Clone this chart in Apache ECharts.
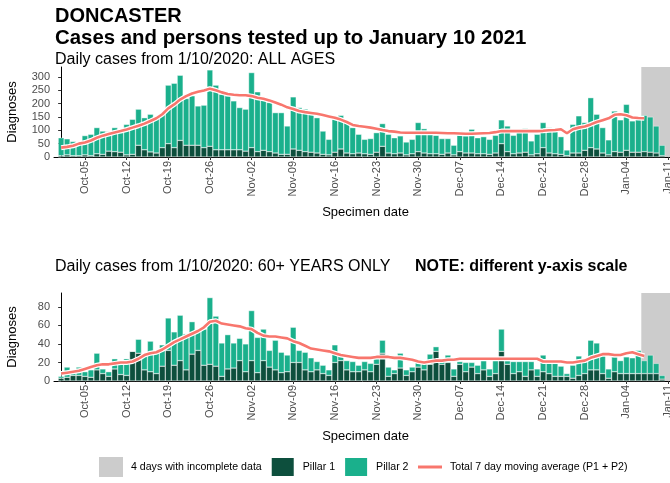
<!DOCTYPE html>
<html>
<head>
<meta charset="utf-8">
<script src="https://cdn.jsdelivr.net/npm/echarts@6/dist/echarts.min.js"></script>
<style>
html,body{margin:0;padding:0;background:#fff;}
#chart{width:670px;height:483px;}
</style>
</head>
<body>
<div id="chart"></div>
<script>
// ---- DATA (day index 0 = 2020-10-01 ... 101 = 2021-01-10) ----
const startDate = '2020-10-01';
const tickDays   = [4, 11, 18, 25, 32, 39, 46, 53, 60, 67, 74, 81, 88, 95, 102];
const tickLabels = ['Oct-05','Oct-12','Oct-19','Oct-26','Nov-02','Nov-09','Nov-16','Nov-23','Nov-30','Dec-07','Dec-14','Dec-21','Dec-28','Jan-04','Jan-11'];
const topTicks = [0, 50, 100, 150, 200, 250, 300];
const botTicks = [0, 20, 40, 60, 80];
const incompleteDays = [97.5, 103.5];

// All ages: total cases per day and Pillar 1 cases
const allTotal = [72,68,58,55,80,85,110,97,95,110,92,122,141,179,147,160,150,160,269,276,
  306,219,229,191,194,326,269,235,229,210,185,179,316,244,216,204,166,166,116,225,
  185,179,172,147,97,66,141,156,135,110,85,66,69,91,125,85,72,79,56,66,
  129,106,85,81,69,69,44,97,79,104,72,76,66,81,139,116,81,97,107,60,
  85,129,110,97,76,26,122,154,129,222,160,110,64,172,139,197,135,144,156,150,
  116,44];
const allP1 = [5,8,5,5,8,5,12,10,22,20,18,8,10,44,27,19,15,35,50,35,
  62,44,44,44,35,40,27,27,27,27,27,22,35,20,25,20,15,10,10,30,
  25,20,18,15,10,8,18,30,15,12,15,12,10,18,40,15,12,15,8,12,
  20,15,12,12,10,15,8,20,15,15,12,12,10,15,50,20,12,15,18,8,
  12,35,15,12,10,5,15,15,25,35,30,15,8,20,18,25,18,18,20,18,
  15,5];
const allAvg = [35,38,42,50,54,62,72,80,86,92,97,103,110,117,125,135,145,160,182,197,
  215,228,238,244,249,256,250,242,236,233,231,231,228,222,218,212,204,196,186,180,
  172,168,165,162,157,152,147,140,131,120,116,113,110,106,101,97,95,92,91,91,
  91,91,91,91,90,89,89,88,87,87,88,89,90,93,97,97,97,97,97,97,
  97,98,100,101,104,89,104,110,114,122,131,138,145,158,160,156,148,146,145];

// 60+ years: total cases per day and Pillar 1 cases
const oldTotal = [5,15,12,15,10,12,30,13,10,24,21,24,32,45,28,43,32,39,68,53,
  71,51,64,55,56,90,70,41,50,41,46,40,76,47,56,33,44,31,28,58,
  33,31,25,21,17,12,39,30,22,21,17,21,19,27,44,15,12,30,12,15,
  21,19,29,37,22,28,13,21,20,20,17,24,13,26,56,22,21,21,21,21,
  13,28,21,19,16,8,17,27,24,44,41,30,13,26,22,26,25,33,22,28,
  19,6];
const oldP1 = [3,4,6,6,5,4,12,8,5,13,7,6,32,30,12,10,8,16,33,17,
  22,12,29,33,17,18,16,5,13,14,22,10,22,9,22,15,12,9,10,20,
  20,12,10,12,8,6,20,22,12,10,10,12,10,18,30,5,8,14,6,10,
  15,12,18,32,18,20,5,18,10,15,8,12,5,8,32,18,8,10,5,12,
  5,10,8,5,5,5,3,6,8,12,12,8,3,10,8,8,8,8,8,8,
  8,2];
const oldAvg = [8,9,10,11,13,15,17,18,18,19,20,20,21,24,28,30,31,34,38,42,
  45,48,51,54,58,64,65,62,61,60,59,57,56,52,49,48,48,47,46,43,
  41,38,35,34,33,32,30,28,27,26,25,25,25,26,26,26,25,25,24,23,
  21,20,21,22,22,23,23,24,24,24,24,24,24,24,24,24,24,24,24,24,
  24,21,21,21,21,20,20,21,22,25,27,29,29,28,28,30,31,29,27];

// ---- CHART ----
const FONT = '"Liberation Sans", Arial, sans-serif';
const COL_P1 = '#0d4f3d', COL_P2 = '#1ab08c', COL_MA = '#f8766d', COL_GREY = '#cccccc';
const NAME_GREY = '4 days with incomplete data';
const NAME_MA = 'Total 7 day moving average (P1 + P2)';

function dateLabel(i) {
  const k = tickDays.indexOf(Math.round(i));
  return k >= 0 ? tickLabels[k] : '';
}
// bars: [value, dayIndex] with encode so that the stacked dimension is the value
const barPairs = (arr, f) => arr.map((v, i) => [f ? f(v, i) : v, i]);
const linePairs = arr => arr.map((v, i) => [i, v]);

function xAxis(gridIndex) {
  return {
    type: 'value', gridIndex, min: -1.2, max: incompleteDays[1],
    name: 'Specimen date', nameLocation: 'middle', nameGap: 49,
    nameTextStyle: { fontFamily: FONT, fontSize: 13, color: '#000' },
    splitLine: { show: false },
    axisLine: { show: true, lineStyle: { color: '#000', width: 1 } },
    axisTick: { show: true, length: 3, customValues: tickDays, lineStyle: { color: '#333' } },
    axisLabel: { customValues: tickDays, rotate: 90, fontFamily: FONT, fontSize: 11, color: '#4d4d4d', margin: 4,
      hideOverlap: false, formatter: v => dateLabel(v) }
  };
}
function yAxis(gridIndex, max, ticks) {
  return {
    type: 'value', gridIndex, min: 0, max,
    name: 'Diagnoses', nameLocation: 'middle', nameGap: 35,
    nameTextStyle: { fontFamily: FONT, fontSize: 13, color: '#000' },
    splitLine: { show: false },
    axisLine: { show: true, lineStyle: { color: '#000', width: 1 } },
    axisTick: { show: true, length: 3, customValues: ticks, lineStyle: { color: '#333' } },
    axisLabel: { customValues: ticks, fontFamily: FONT, fontSize: 11, color: '#4d4d4d', margin: 4 }
  };
}
function panelSeries(idx, total, p1, avg) {
  const st = 's' + idx;
  return [
    { name: NAME_GREY, type: 'line', xAxisIndex: idx, yAxisIndex: idx, data: [], symbol: 'none',
      itemStyle: { color: COL_GREY }, lineStyle: { color: COL_GREY },
      markArea: { silent: true, z: 1, itemStyle: { color: COL_GREY, opacity: 1 },
        data: [[{ xAxis: incompleteDays[0] }, { xAxis: incompleteDays[1] }]] }, z: 1 },
    { name: 'Pillar 1', type: 'bar', stack: st, xAxisIndex: idx, yAxisIndex: idx, barWidth: 5.9,
      encode: { x: 1, y: 0 },
      data: barPairs(p1), itemStyle: { color: COL_P1, borderColor: '#fff', borderWidth: 0.4 }, z: 2 },
    { name: 'Pillar 2', type: 'bar', stack: st, xAxisIndex: idx, yAxisIndex: idx, barWidth: 5.9,
      encode: { x: 1, y: 0 },
      data: barPairs(total, (v, i) => v - p1[i]), itemStyle: { color: COL_P2, borderColor: '#fff', borderWidth: 0.4 }, z: 2 },
    { name: 'halo', type: 'line', xAxisIndex: idx, yAxisIndex: idx, data: linePairs(avg), symbol: 'none',
      lineStyle: { color: '#fff', width: 5 }, z: 3, silent: true },
    { name: NAME_MA, type: 'line', xAxisIndex: idx, yAxisIndex: idx, data: linePairs(avg), symbol: 'none',
      itemStyle: { color: COL_MA }, lineStyle: { color: COL_MA, width: 2.6 }, z: 4 }
  ];
}

const chart = echarts.init(document.getElementById('chart'), null, { renderer: 'canvas' });
chart.setOption({
  animation: false,
  backgroundColor: '#fff',
  textStyle: { fontFamily: FONT },
  title: [
    { text: 'DONCASTER', left: 55, top: 6, padding: 0, textStyle: { fontFamily: FONT, fontSize: 20, fontWeight: 'bold', color: '#000' } },
    { text: 'Cases and persons tested up to January 10 2021', left: 55, top: 28, padding: 0, textStyle: { fontFamily: FONT, fontSize: 20.4, fontWeight: 'bold', color: '#000' } },
    { text: 'Daily cases from 1/10/2020: ALL AGES', left: 55, top: 52, padding: 0, textStyle: { fontFamily: FONT, fontSize: 16, fontWeight: 'normal', color: '#000' } },
    { text: 'Daily cases from 1/10/2020: 60+ YEARS ONLY', left: 55, top: 259, padding: 0, textStyle: { fontFamily: FONT, fontSize: 16, fontWeight: 'normal', color: '#000' } },
    { text: 'NOTE: different y-axis scale', left: 415, top: 259, padding: 0, textStyle: { fontFamily: FONT, fontSize: 16, fontWeight: 'bold', color: '#000' } }
  ],
  legend: {
    left: 99, top: 456, itemWidth: 24, itemHeight: 20, itemGap: 8, padding: 0,
    textStyle: { fontFamily: FONT, fontSize: 10.6, color: '#000', padding: [0, 0, 0, 3] },
    data: [
      { name: NAME_GREY, icon: 'rect' },
      { name: 'Pillar 1', icon: 'rect' },
      { name: 'Pillar 2', icon: 'rect' },
      { name: NAME_MA, itemStyle: { opacity: 0 }, lineStyle: { width: 3 } }
    ]
  },
  grid: [
    { left: 54, width: 623, top: 67, height: 90, containLabel: false, outerBoundsMode: 'none' },
    { left: 54, width: 623, top: 293, height: 88, containLabel: false, outerBoundsMode: 'none' }
  ],
  xAxis: [xAxis(0), xAxis(1)],
  yAxis: [yAxis(0, 337, topTicks), yAxis(1, 95, botTicks)],
  series: [].concat(panelSeries(0, allTotal, allP1, allAvg), panelSeries(1, oldTotal, oldP1, oldAvg))
});
</script>
</body>
</html>
